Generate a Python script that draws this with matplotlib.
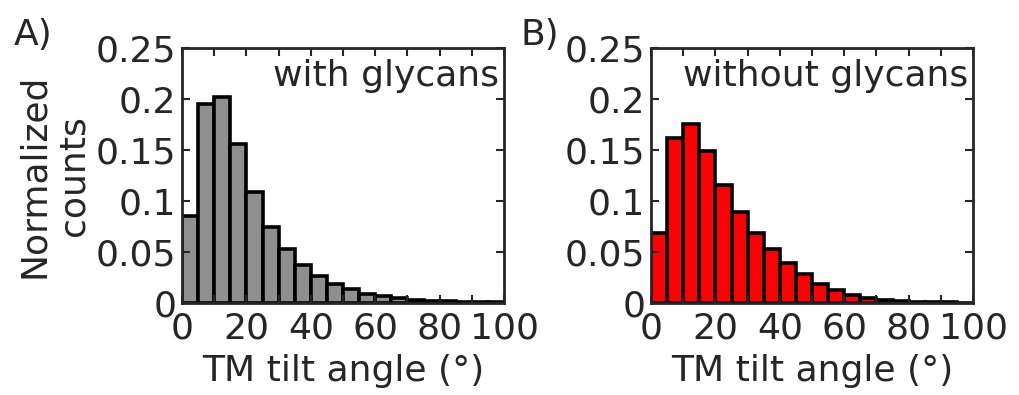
import matplotlib
matplotlib.use("Agg")
import matplotlib.pyplot as plt
import numpy as np
from matplotlib.ticker import MultipleLocator

bin_edges = list(range(0, 105, 5))
with_glycans = [0.085, 0.195, 0.2016, 0.156, 0.109, 0.075, 0.053, 0.0376, 0.0268, 0.019,
                0.0137, 0.0092, 0.0065, 0.0046, 0.0033, 0.0023, 0.0016, 0.0012, 0.0009, 0.0006]
without_glycans = [0.069, 0.162, 0.1755, 0.149, 0.1157, 0.0895, 0.069, 0.053, 0.039, 0.028,
                   0.019, 0.0127, 0.0082, 0.0052, 0.0033, 0.0023, 0.0013, 0.001, 0.0007, 0.0003]
panel_labels = ["A)", "B)"]
titles = ["with glycans", "without glycans"]
colors = ["#8f8f8f", "#ff0000"]
xlabel = "TM tilt angle (°)"
ylabel = "Normalized\ncounts"
yticks = [0, 0.05, 0.1, 0.15, 0.2, 0.25]
ytick_labels = ["0", "0.05", "0.1", "0.15", "0.2", "0.25"]
xticks = [0, 20, 40, 60, 80, 100]

plt.rcParams['font.family'] = ['DejaVu Sans']
txt = "#262626"
fig = plt.figure(figsize=(10.19, 3.95), dpi=100)
axes = [fig.add_axes([182/1019, 1-303/395, 322/1019, 255/395]),
        fig.add_axes([651/1019, 1-303/395, 322/1019, 255/395])]
data = [with_glycans, without_glycans]
fs = 26
for i, ax in enumerate(axes):
    edges = np.array(bin_edges)
    ax.bar(edges[:-1], data[i], width=np.diff(edges), align='edge', color=colors[i],
           edgecolor='black', linewidth=2.6)
    ax.set_xlim(0, 100)
    ax.set_ylim(0, 0.25)
    ax.set_xticks(xticks)
    ax.set_xticklabels([str(x) for x in xticks])
    ax.xaxis.set_minor_locator(MultipleLocator(10))
    ax.set_yticks(yticks)
    ax.set_yticklabels(ytick_labels)
    ax.tick_params(which='both', direction='in', top=True, right=True, length=6, width=1.5,
                   labelsize=fs, colors=txt)
    ax.tick_params(axis='x', which='both', pad=6)
    ax.tick_params(axis='y', which='both', pad=4)
    for s in ax.spines.values():
        s.set_linewidth(2)
        s.set_color(txt)
    ax.set_xlabel(xlabel, fontsize=fs, color=txt, labelpad=6)
    ax.text(0.985, 0.955, titles[i], transform=ax.transAxes, ha='right', va='top',
            fontsize=fs, color=txt)
axes[0].set_ylabel(ylabel, fontsize=fs, color=txt, linespacing=1.2, labelpad=4)
fig.text(14/1019, 1-35/395, panel_labels[0], fontsize=fs, color=txt, va='center', ha='left')
fig.text(520/1019, 1-35/395, panel_labels[1], fontsize=fs, color=txt, va='center', ha='left')
fig.savefig("out.png", dpi=100)
